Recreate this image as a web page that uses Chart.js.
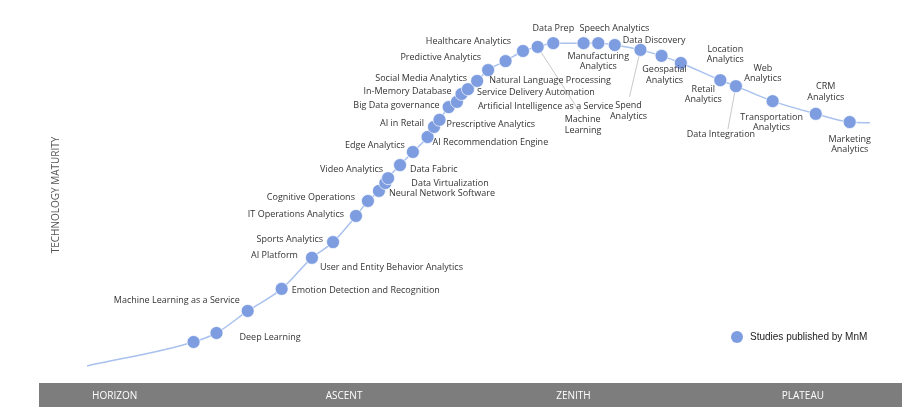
<!DOCTYPE html>
<html>
<head>
<meta charset="utf-8">
<script src="https://cdn.jsdelivr.net/npm/chart.js@4"></script>
<style>
  body { margin: 0; background: #fff; }
  .wrap { position: relative; width: 914px; height: 418px; }
</style>
</head>
<body>
<div class="wrap"><canvas id="curveChart"></canvas></div>
<script>
/* Technology maturity curve – studies published by MnM */

// timeline position (0-100, four phases of 25) and maturity (0-100) of each study dot
const dotX = [21.1, 23.6, 27.0, 30.7, 34.0, 36.3, 38.8, 40.1, 41.3, 42.0, 42.3, 43.6, 45.0,
  46.6, 47.3, 47.9, 48.9, 49.8, 50.3, 51.0, 52.0, 53.2, 55.1, 57.0, 58.6, 60.3, 63.6, 65.2,
  67.0, 69.8, 72.1, 74.2, 78.5, 80.2, 84.2, 88.9, 92.6];
const dotY = [10.7, 13.1, 19.0, 24.9, 33.2, 37.4, 44.4, 48.4, 51.1, 53.2, 54.5, 58.0, 61.5,
  65.5, 68.2, 70.1, 73.5, 74.9, 77.0, 78.3, 80.5, 83.4, 85.8, 88.5, 89.6, 90.6, 90.6, 90.6,
  90.1, 88.8, 87.2, 85.3, 80.7, 79.1, 75.1, 71.7, 69.5];

// where the curve begins and ends beyond the first / last dot
const curveEndsX = [9.5, 94.8];
const curveEndsY = [4.3, 69.3];

// study names and the dot each one belongs to
const studyNames = [
  'Deep Learning', 'Machine Learning as a Service', 'Emotion Detection and Recognition',
  'AI Platform', 'User and Entity Behavior Analytics', 'Sports Analytics',
  'IT Operations Analytics', 'Cognitive Operations', 'Neural Network Software',
  'Data Virtualization', 'Video Analytics', 'Data Fabric', 'Edge Analytics',
  'AI Recommendation Engine', 'AI in Retail', 'Prescriptive Analytics', 'Big Data governance',
  'Artificial Intelligence as a Service', 'In-Memory Database', 'Service Delivery Automation',
  'Social Media Analytics', 'Natural Language Processing', 'Predictive Analytics',
  'Healthcare Analytics', 'Machine\nLearning', 'Data Prep', 'Speech Analytics',
  'Manufacturing\nAnalytics', 'Data Discovery', 'Spend\nAnalytics', 'Geospatial\nAnalytics',
  'Location\nAnalytics', 'Retail\nAnalytics', 'Web\nAnalytics', 'Data Integration',
  'Transportation\nAnalytics', 'CRM\nAnalytics', 'Marketing\nAnalytics'
];
const studyDot = [1, 2, 3, 4, 4, 5, 6, 7, 8, 9, 10, 11, 12, 13, 14, 15, 16, 17, 18, 19, 20,
  21, 21, 23, 24, 25, 26, 27, 28, 29, 30, 32, 32, 33, 33, 34, 35, 36];

const phases = ['HORIZON', 'ASCENT', 'ZENITH', 'PLATEAU'];
const phaseCenters = [12.5, 37.5, 62.5, 87.5];

// label placement relative to its dot, in px: [dx, dy, align]
const LABEL_POS = [
  [23, 4, 'left'], [-8, -11, 'right'], [10, 2, 'left'], [-14, -2, 'right'], [8, 10, 'left'],
  [-10, -3, 'right'], [-12, -2, 'right'], [-13, -4, 'right'], [10, 3, 'left'], [26, 0, 'left'],
  [-5, -9, 'right'], [10, 4, 'left'], [-8, -7, 'right'], [5, 5, 'left'], [-10, -3, 'right'],
  [7, 5, 'left'], [-9, -2, 'right'], [21, 5, 'left'], [-10, -3, 'right'], [9, 3, 'left'],
  [-10, -2, 'right'], [1, 10, 'left'], [-7, -13, 'right'], [-12, -10, 'right'],
  [27, 73, 'left'], [0, -15, 'center'], [-4, -15, 'left'], [0, 13, 'center'], [8, -5, 'left'],
  [-12, 56, 'center'], [3, 14, 'center'], [5, -31, 'center'], [-17, 9, 'center'],
  [27, -18, 'center'], [-15, 48, 'center'], [-1, 16, 'center'], [10, -27, 'center'],
  [0, 17, 'center']
];
// grey leader lines: label index -> end point offset from its dot
const LEADERS = { 24: [42, 65], 29: [-11, 47], 34: [-8, 43] };

const DOT_COLOR = '#7d9de0';
const LINE_COLOR = '#a9c1ee';

const dots = dotX.map((x, i) => ({ x, y: dotY[i] }));
const curve = [{ x: curveEndsX[0], y: curveEndsY[0] }, ...dots, { x: curveEndsX[1], y: curveEndsY[1] }];

const decorPlugin = {
  id: 'decor',
  beforeDatasetsDraw(chart) {
    const { ctx } = chart;
    const meta = chart.getDatasetMeta(0);
    ctx.save();
    ctx.strokeStyle = '#c8c8c8';
    ctx.lineWidth = 1;
    Object.keys(LEADERS).forEach(k => {
      const p = meta.data[studyDot[k]];
      const [ex, ey] = LEADERS[k];
      ctx.beginPath();
      ctx.moveTo(p.x, p.y);
      ctx.lineTo(p.x + ex, p.y + ey);
      ctx.stroke();
    });
    ctx.restore();
  },
  afterDatasetsDraw(chart) {
    const { ctx, chartArea, scales } = chart;
    const meta = chart.getDatasetMeta(0);
    ctx.save();

    // study labels
    ctx.fillStyle = '#333';
    ctx.font = "9px 'Open Sans', sans-serif";
    ctx.textBaseline = 'middle';
    studyNames.forEach((name, i) => {
      const p = meta.data[studyDot[i]];
      const [dx, dy, align] = LABEL_POS[i];
      ctx.textAlign = align;
      name.split('\n').forEach((line, j) => {
        ctx.fillText(line, p.x + dx, p.y + dy + j * 10.5);
      });
    });

    // phase bar
    const barTop = chartArea.bottom + 1;
    ctx.fillStyle = '#7d7d7d';
    ctx.fillRect(chartArea.left - 27, barTop, chartArea.right - chartArea.left + 27, 24);
    ctx.fillStyle = '#ffffff';
    ctx.font = "10px 'Open Sans', sans-serif";
    ctx.textAlign = 'center';
    phases.forEach((ph, i) => {
      ctx.fillText(ph, scales.x.getPixelForValue(phaseCenters[i]), barTop + 13);
    });

    // legend
    const lx = chartArea.right - 165, ly = chartArea.bottom - 45;
    ctx.fillStyle = DOT_COLOR;
    ctx.beginPath();
    ctx.arc(lx, ly, 6, 0, Math.PI * 2);
    ctx.fill();
    ctx.fillStyle = '#222';
    ctx.font = "10px 'Liberation Sans', Arial, sans-serif";
    ctx.textAlign = 'left';
    ctx.fillText('Studies published by MnM', lx + 13, ly);
    ctx.restore();
  }
};

new Chart(document.getElementById('curveChart'), {
  type: 'scatter',
  data: {
    datasets: [
      {
        data: dots,
        showLine: false,
        pointRadius: 6.5,
        pointBackgroundColor: DOT_COLOR,
        pointBorderColor: 'rgba(255,255,255,0.85)',
        pointBorderWidth: 0.8,
      },
      {
        data: curve,
        showLine: true,
        pointRadius: 0,
        borderColor: LINE_COLOR,
        borderWidth: 1.5,
        cubicInterpolationMode: 'monotone',
        fill: false,
      }
    ]
  },
  options: {
    responsive: true, maintainAspectRatio: false,
    animation: false,
    layout: { padding: { left: 46, right: 12, top: 8, bottom: 36 } },
    plugins: { legend: { display: false }, tooltip: { enabled: false } },
    scales: {
      x: { type: 'linear', min: 7.2, max: 98.3, display: false },
      y: {
        type: 'linear', min: 0, max: 100,
        ticks: { display: false },
        grid: { display: false, drawTicks: false },
        border: { display: false },
        title: {
          display: true, text: 'TECHNOLOGY MATURITY', color: '#555',
          font: { size: 10, family: "'Open Sans', sans-serif" }
        }
      }
    }
  },
  plugins: [decorPlugin]
});
</script>
</body>
</html>
